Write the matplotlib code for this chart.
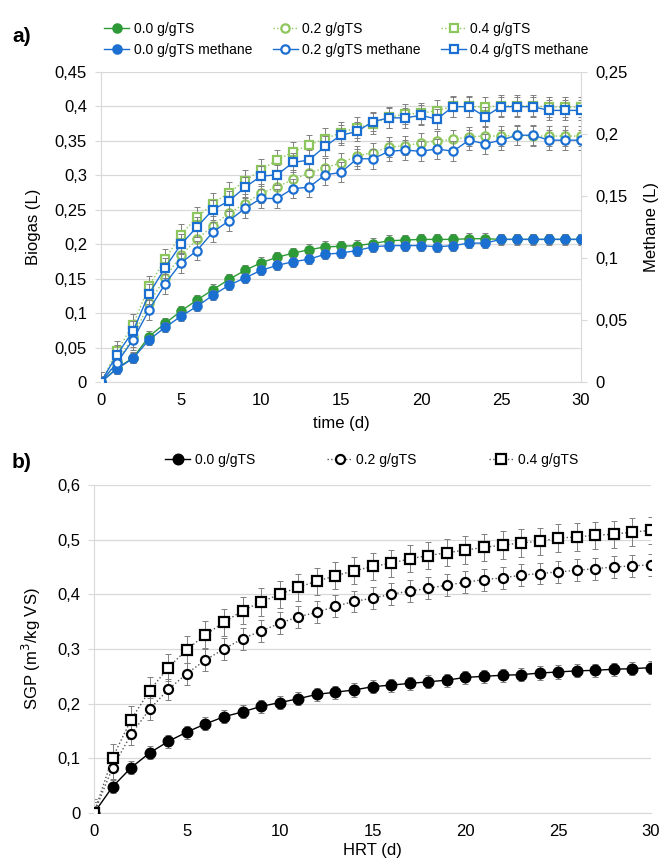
import matplotlib
matplotlib.use('Agg')
import matplotlib.pyplot as plt
from matplotlib.ticker import FuncFormatter, MultipleLocator

plt.rcParams['font.family'] = ['Liberation Sans', 'DejaVu Sans']

# days 0..30
days = list(range(31))

# panel a - biogas (L), left axis
biogas_00 = [0, 0.020, 0.035, 0.066, 0.085, 0.103, 0.119, 0.134, 0.149, 0.162, 0.173,
             0.181, 0.187, 0.192, 0.196, 0.197, 0.198, 0.201, 0.205, 0.206, 0.207,
             0.207, 0.207, 0.208, 0.208, 0.207, 0.207, 0.207, 0.207, 0.207, 0.207]
biogas_02 = [0, 0.030, 0.065, 0.114, 0.151, 0.184, 0.207, 0.227, 0.245, 0.259, 0.274,
             0.283, 0.294, 0.303, 0.311, 0.318, 0.328, 0.333, 0.341, 0.343, 0.347,
             0.350, 0.352, 0.356, 0.357, 0.357, 0.358, 0.357, 0.357, 0.357, 0.357]
biogas_04 = [0, 0.045, 0.083, 0.139, 0.178, 0.214, 0.239, 0.259, 0.275, 0.292, 0.308,
             0.322, 0.334, 0.344, 0.353, 0.362, 0.369, 0.375, 0.384, 0.389, 0.390,
             0.394, 0.400, 0.400, 0.399, 0.401, 0.401, 0.401, 0.399, 0.399, 0.399]

# panel a - methane (L), right axis
methane_00 = [0, 0.0106, 0.019, 0.034, 0.044, 0.053, 0.061, 0.070, 0.078, 0.084, 0.090,
              0.094, 0.097, 0.099, 0.103, 0.104, 0.106, 0.109, 0.110, 0.110, 0.110,
              0.109, 0.110, 0.112, 0.112, 0.115, 0.115, 0.115, 0.115, 0.115, 0.115]
methane_02 = [0, 0.0156, 0.034, 0.058, 0.079, 0.096, 0.106, 0.121, 0.130, 0.140, 0.148,
              0.148, 0.156, 0.157, 0.167, 0.169, 0.180, 0.180, 0.186, 0.187, 0.186,
              0.188, 0.186, 0.195, 0.192, 0.195, 0.199, 0.199, 0.195, 0.195, 0.195]
methane_04 = [0, 0.022, 0.041, 0.071, 0.092, 0.111, 0.125, 0.139, 0.146, 0.157, 0.166,
              0.167, 0.177, 0.179, 0.190, 0.199, 0.202, 0.210, 0.213, 0.213, 0.215,
              0.212, 0.222, 0.222, 0.214, 0.222, 0.222, 0.222, 0.219, 0.219, 0.219]

# error bar half widths (same unit as the series)
err_biogas = [0.008, 0.014, 0.015]
err_methane = [0.004, 0.008, 0.008]

# panel b - SGP (m3/kg VS)
sgp_00 = [0, 0.048, 0.083, 0.110, 0.131, 0.148, 0.163, 0.176, 0.185, 0.195, 0.202,
          0.209, 0.217, 0.221, 0.225, 0.231, 0.234, 0.237, 0.240, 0.243, 0.248,
          0.250, 0.252, 0.253, 0.256, 0.258, 0.260, 0.261, 0.263, 0.264, 0.266]
sgp_02 = [0, 0.083, 0.144, 0.190, 0.226, 0.255, 0.280, 0.300, 0.319, 0.333, 0.347,
          0.359, 0.367, 0.378, 0.387, 0.393, 0.400, 0.406, 0.411, 0.417, 0.422,
          0.427, 0.430, 0.435, 0.438, 0.441, 0.444, 0.447, 0.450, 0.452, 0.454]
sgp_04 = [0, 0.101, 0.171, 0.224, 0.266, 0.299, 0.326, 0.349, 0.370, 0.386, 0.400,
          0.413, 0.424, 0.434, 0.443, 0.451, 0.457, 0.465, 0.471, 0.476, 0.481,
          0.486, 0.490, 0.494, 0.497, 0.503, 0.505, 0.508, 0.510, 0.514, 0.517]
err_sgp = [0.012, 0.02, 0.025]

labels = ['0.0 g/gTS', '0.2 g/gTS', '0.4 g/gTS']

dark_green = '#2e9a37'
light_green = '#8dc65c'
blue = '#1b6fd1'
grid_col = '#d9d9d9'
err_col = '#808080'


def comma(v, pos):
    return ('%g' % round(v, 3)).replace('.', ',')


def style_axis(a):
    a.grid(axis='y', color=grid_col, lw=0.9)
    a.set_axisbelow(True)
    for s in ['top', 'right']:
        a.spines[s].set_visible(False)
    a.spines['left'].set_color(grid_col)
    a.spines['bottom'].set_color(grid_col)
    a.tick_params(axis='y', length=4, color=grid_col, labelsize=12, pad=6)
    a.tick_params(axis='x', length=0, labelsize=12, pad=8)
    a.yaxis.set_major_formatter(FuncFormatter(comma))


fig = plt.figure(figsize=(6.64, 8.67), dpi=100)

# =========================
# PANEL a
# =========================
ax = fig.add_axes([0.1521, 0.5594, 0.7229, 0.3576])
ax2 = ax.twinx()

ax.set_xlim(0, 30)
ax.set_ylim(0, 0.45)
ax.yaxis.set_major_locator(MultipleLocator(0.05))
ax.xaxis.set_major_locator(MultipleLocator(5))
style_axis(ax)

ax2.set_ylim(0, 0.25)
ax2.yaxis.set_major_locator(MultipleLocator(0.05))
ax2.yaxis.set_major_formatter(FuncFormatter(comma))
for s in ['top', 'left', 'bottom']:
    ax2.spines[s].set_visible(False)
ax2.spines['right'].set_color(grid_col)
ax2.tick_params(axis='y', length=4, color=grid_col, labelsize=12, pad=6)

biogas = [biogas_00, biogas_02, biogas_04]
methane = [methane_00, methane_02, methane_04]

handles = []
b_styles = [('o', dark_green, '-'), ('o', 'white', ':'), ('s', 'white', ':')]
b_colors = [dark_green, light_green, light_green]
for i in range(3):
    ax.errorbar(days, biogas[i], yerr=err_biogas[i], fmt='none', ecolor=err_col,
                elinewidth=0.7, capsize=2, capthick=0.7, zorder=2)
    mk, fc, ls = b_styles[i]
    h, = ax.plot(days, biogas[i], ls=ls, lw=1.0, color=b_colors[i], marker=mk,
                 ms=6, mfc=fc, mec=b_colors[i], mew=1.6, zorder=3, label=labels[i])
    handles.append(h)

m_styles = [('o', blue), ('o', 'white'), ('s', 'white')]
for i in range(3):
    ax2.errorbar(days, methane[i], yerr=err_methane[i], fmt='none', ecolor=err_col,
                 elinewidth=0.7, capsize=2, capthick=0.7, zorder=2)
    mk, fc = m_styles[i]
    h, = ax2.plot(days, methane[i], ls='-', lw=1.0, color=blue, marker=mk,
                  ms=6, mfc=fc, mec=blue, mew=1.6, zorder=3,
                  label=labels[i] + ' methane')
    handles.append(h)

ax.set_xlabel('time (d)', fontsize=12, labelpad=6)
ax.set_ylabel('Biogas (L)', fontsize=12, labelpad=10)
ax2.set_ylabel('Methane (L)', fontsize=12, labelpad=12)

order = [handles[0], handles[3], handles[1], handles[4], handles[2], handles[5]]
fig.legend(order, [h.get_label() for h in order], ncol=3, loc='center',
           bbox_to_anchor=(0.522, 0.9545), frameon=False, fontsize=10,
           handlelength=1.8, handletextpad=0.3, columnspacing=1.5,
           labelspacing=0.45)

fig.text(0.018, 0.958, 'a)', fontsize=15, fontweight='bold', va='center')

# =========================
# PANEL b
# =========================
bx = fig.add_axes([0.1416, 0.0623, 0.8389, 0.3783])
bx.set_xlim(0, 30)
bx.set_ylim(0, 0.6)
bx.yaxis.set_major_locator(MultipleLocator(0.1))
bx.xaxis.set_major_locator(MultipleLocator(5))
style_axis(bx)

sgp = [sgp_00, sgp_02, sgp_04]
s_styles = [('o', 'black', '-', 'black'), ('o', 'white', ':', '#555555'),
            ('s', 'white', ':', '#555555')]
for i in range(3):
    bx.errorbar(days, sgp[i], yerr=err_sgp[i], fmt='none', ecolor=err_col,
                elinewidth=0.7, capsize=2, capthick=0.7, zorder=2)
    mk, fc, ls, lc = s_styles[i]
    bx.plot(days, sgp[i], ls=ls, lw=1.0, color=lc, marker=mk, ms=7 if i == 0 else 6.5,
            mfc=fc, mec='black', mew=1.6, zorder=3 + i, label=labels[i])

bx.set_xlabel('HRT (d)', fontsize=12, labelpad=3)
bx.set_ylabel('SGP (m$^3$/kg VS)', fontsize=12, labelpad=10)

fig.legend(*bx.get_legend_handles_labels(), ncol=3, loc='center',
           bbox_to_anchor=(0.56, 0.4694), frameon=False, fontsize=10,
           handlelength=1.8, handletextpad=0.3, columnspacing=5.2)

fig.text(0.018, 0.467, 'b)', fontsize=15, fontweight='bold', va='center')

fig.savefig('out.png', dpi=100)
